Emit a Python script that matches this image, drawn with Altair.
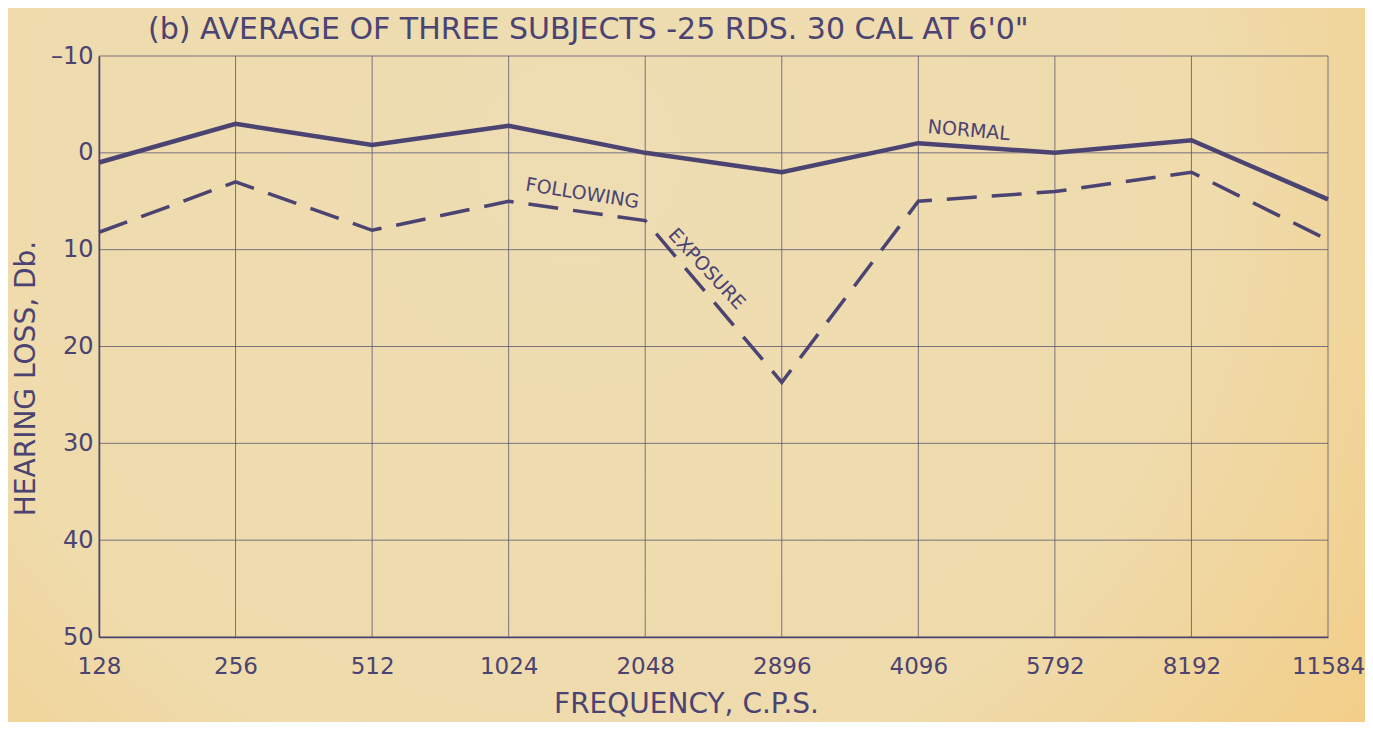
import altair as alt
import pandas as pd

freqs = ["128", "256", "512", "1024", "2048", "2896", "4096", "5792", "8192", "11584"]
normal = [1, -3, -0.8, -2.8, 0, 2, -1, 0, -1.3, 4.8]
following = [8.2, 3, 8, 5, 7, 23.7, 5, 4, 2, 9]
y_ticks = [-10, 0, 10, 20, 30, 40, 50]

ann_text = ["NORMAL", "FOLLOWING", "EXPOSURE"]
ann_x = [6.37, 3.54, 4.45]
ann_y = [-2.3, 4.2, 12.0]
ann_angle = [5, 9, 47]

title_text = "(b) AVERAGE OF THREE SUBJECTS -25 RDS. 30 CAL AT 6'0\""

ink = "#4b4371"
grid_ink = "#5e5670"
font = "DejaVu Sans"

rows = []
for i, f in enumerate(freqs):
    rows.append({"i": i, "freq": f, "loss": normal[i], "series": "Normal"})
    rows.append({"i": i, "freq": f, "loss": following[i], "series": "Following exposure"})
df = pd.DataFrame(rows)

label_expr = "[" + ",".join('"%s"' % f for f in freqs) + "][datum.value]"

x_scale = alt.Scale(domain=[0, 9], nice=False, zero=False)
y_scale = alt.Scale(domain=[-10, 50], reverse=True, nice=False)

x_axis = alt.Axis(values=list(range(10)), labelExpr=label_expr,
                  title="FREQUENCY, C.P.S.", grid=False, ticks=False,
                  labelFontSize=23, titleFontSize=28, labelPadding=18,
                  titlePadding=12, titleX=587, labelFont=font, titleFont=font,
                  labelColor=ink, titleColor=ink, titleFontWeight="normal",
                  domainColor=ink, domainWidth=1.5, labelFlush=False, zindex=1)
y_axis = alt.Axis(values=y_ticks, title="HEARING LOSS, Db.",
                  grid=False, ticks=False, labelFontSize=24, titleFontSize=28,
                  labelPadding=6, titlePadding=10, titleY=322, labelFont=font, titleFont=font,
                  labelColor=ink, titleColor=ink, titleFontWeight="normal",
                  domainColor=ink, domainWidth=1.5, zindex=1,
                  labelExpr="datum.value < 0 ? '\u2013' + abs(datum.value) : datum.value")

x = alt.X("i:Q", scale=x_scale, axis=x_axis)
y = alt.Y("loss:Q", scale=y_scale, axis=y_axis)

paper = alt.Chart(alt.Data(values=[{}])).mark_rect(
    color=alt.RadialGradient(
        gradient="radial",
        stops=[alt.GradientStop(offset=0, color="#EEDDB3"),
               alt.GradientStop(offset=0.55, color="#EFDBAC"),
               alt.GradientStop(offset=1, color="#F4C774")],
        x1=0.42, y1=0.35, r1=0, x2=0.42, y2=0.35, r2=0.85),
).encode(x=alt.value(-91), x2=alt.value(1229 + 37),
         y=alt.value(-48), y2=alt.value(581 + 85))

vgrid = alt.Chart(pd.DataFrame({"i": list(range(10))})).mark_rule(
    color=grid_ink, strokeWidth=1, opacity=0.8).encode(x=x)
hgrid = alt.Chart(pd.DataFrame({"loss": y_ticks})).mark_rule(
    color=grid_ink, strokeWidth=1, opacity=0.8).encode(y=y)

base = alt.Chart(df)
normal_line = base.transform_filter(alt.datum.series == "Normal").mark_line(
    color=ink, strokeWidth=4.5).encode(x=x, y=y)
follow_line = base.transform_filter(alt.datum.series == "Following exposure").mark_line(
    color=ink, strokeWidth=3.5, strokeDash=[30, 15]).encode(x=x, y=y)

ann_df = pd.DataFrame({"text": ann_text, "i": ann_x, "loss": ann_y, "angle": ann_angle})
anns = []
for k in range(len(ann_text)):
    anns.append(alt.Chart(ann_df.iloc[[k]]).mark_text(
        font=font, fontSize=19, color=ink, angle=ann_angle[k], align="center",
        baseline="middle").encode(x=x, y=y, text="text:N"))

title = alt.Chart(pd.DataFrame({"t": [title_text]})).mark_text(
    font=font, fontSize=30, color=ink, align="left", baseline="middle").encode(
    x=alt.value(49), y=alt.value(-26), text="t:N")

chart = alt.layer(paper, vgrid, hgrid, normal_line, follow_line, *anns, title).properties(
    width=1229, height=581,
    autosize=alt.AutoSizeParams(type="none"),
    padding={"left": 91, "top": 48, "right": 37, "bottom": 85},
    background="#EEDDB0",
).configure_view(stroke=ink, strokeWidth=1.5)

chart.save("out.html", embed_options={"renderer": "svg", "actions": False})
